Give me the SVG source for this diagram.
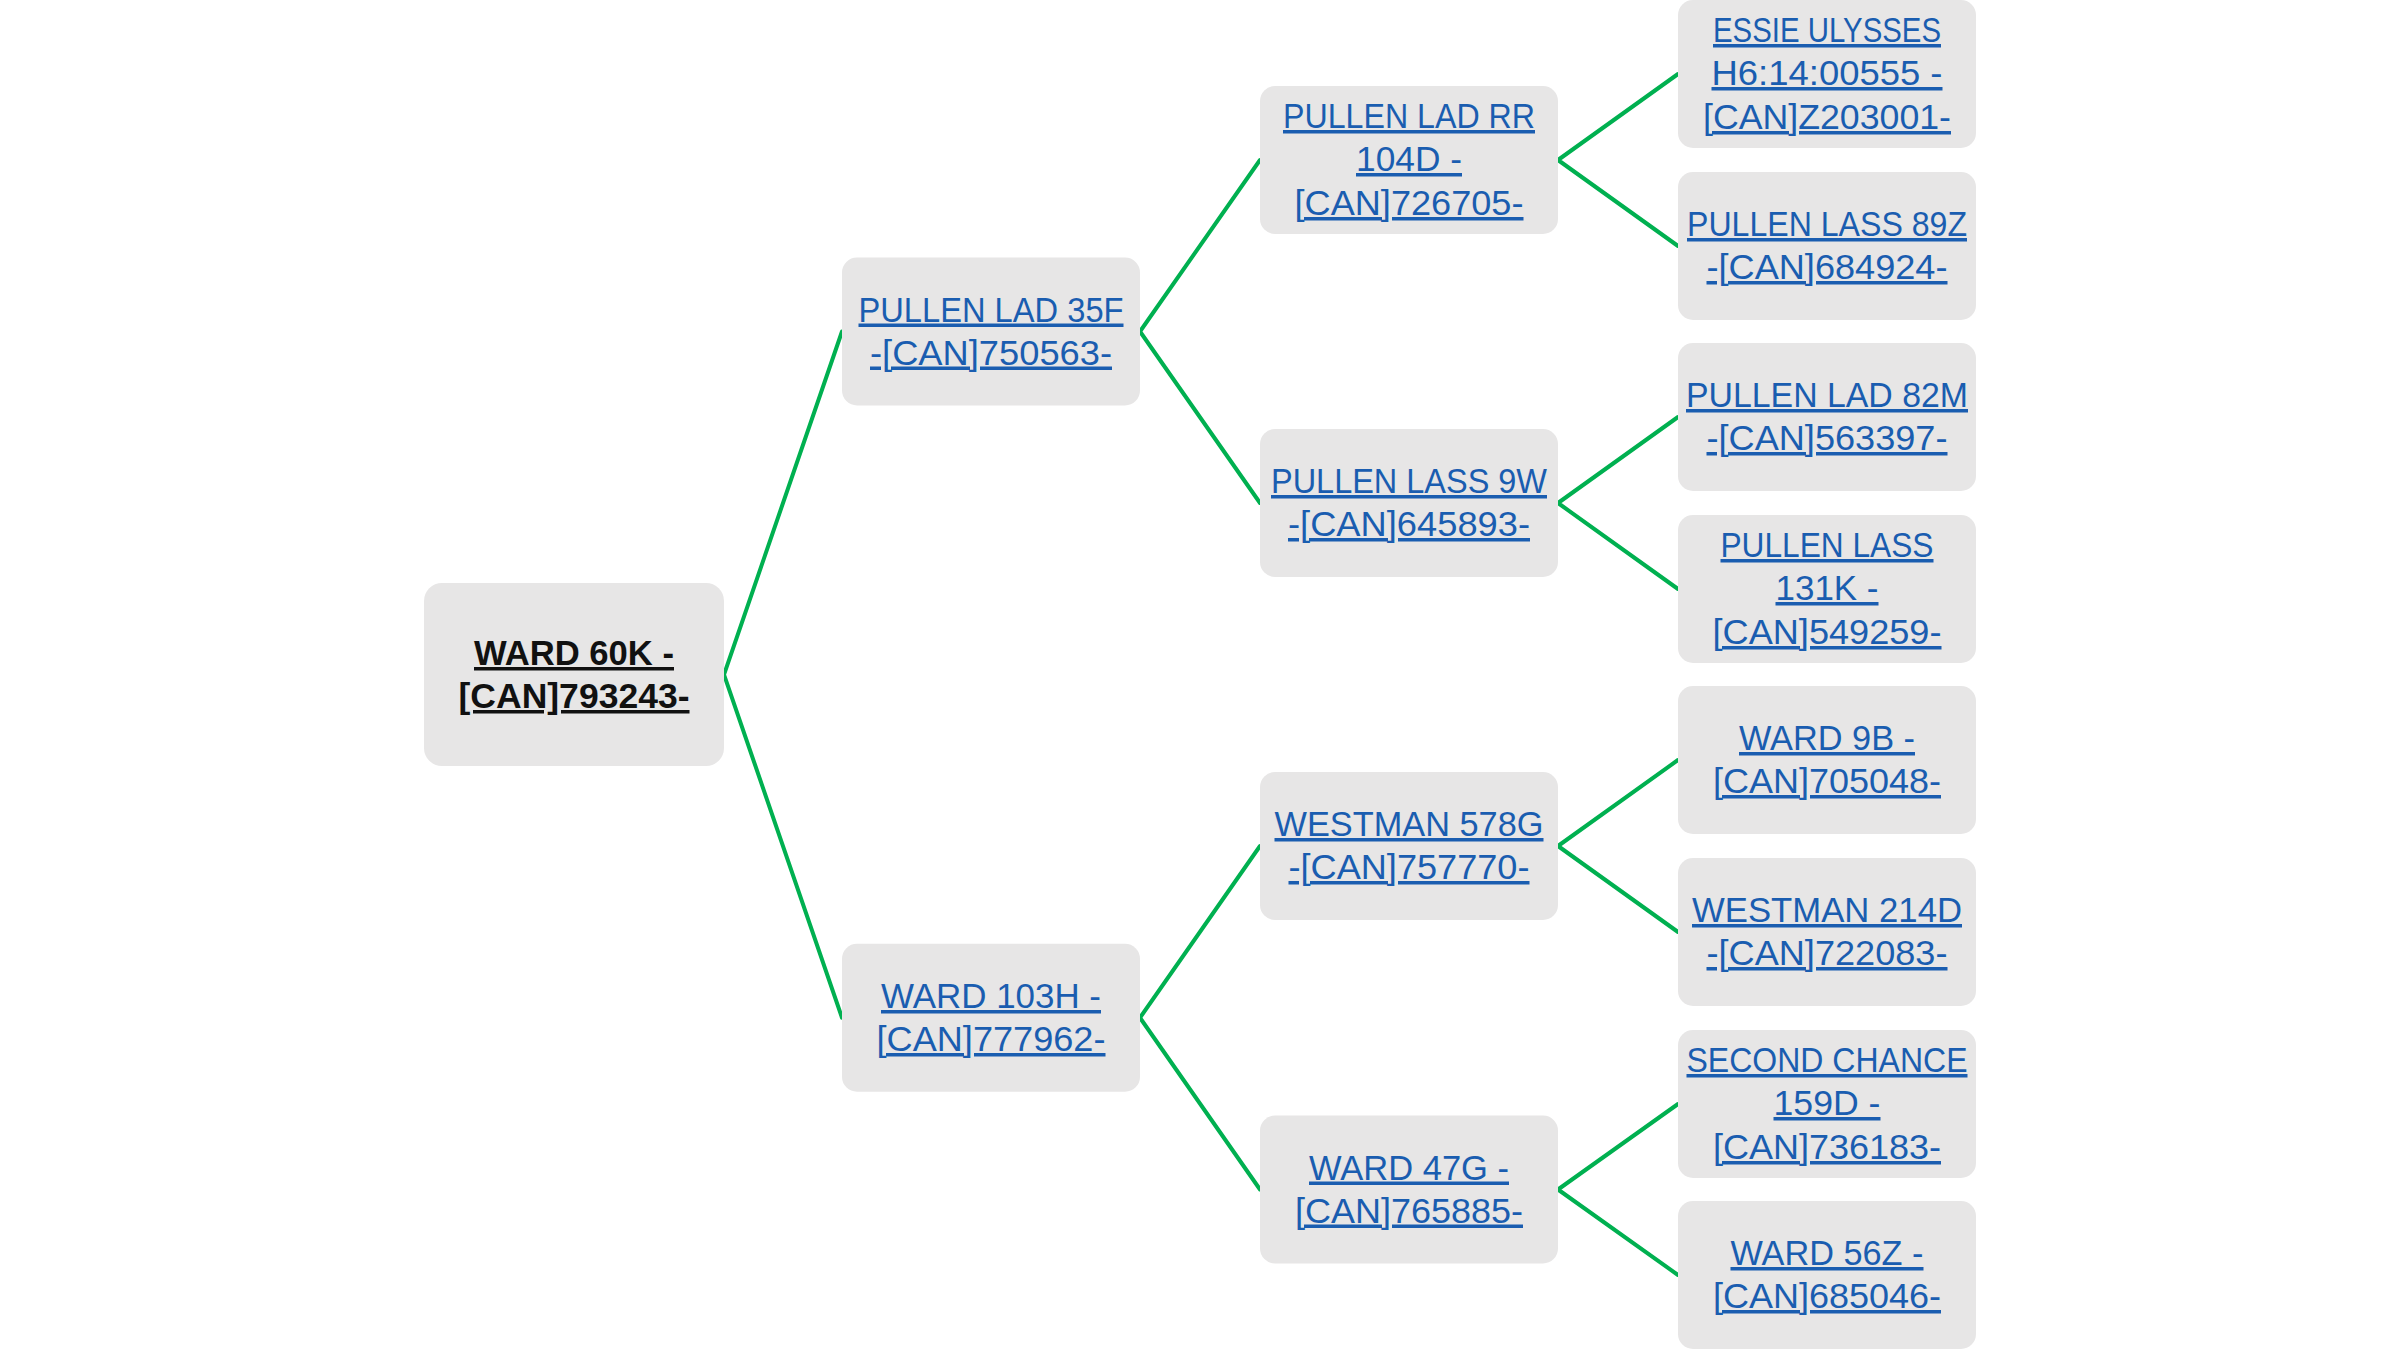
<svg xmlns="http://www.w3.org/2000/svg" width="2401" height="1350" viewBox="0 0 2401 1350">
<style>
.bg{fill:#ffffff}
.box{fill:#E7E6E6}
.lnk{font-family:"Liberation Sans",Arial,sans-serif;font-size:35px;fill:#1A5DB0;text-anchor:middle;text-decoration:underline}
.root{font-family:"Liberation Sans",Arial,sans-serif;font-size:35px;font-weight:bold;fill:#111111;text-anchor:middle;text-decoration:underline}
.con{stroke:#00B050;stroke-width:4;fill:none;stroke-linecap:round;stroke-linejoin:round}
</style>
<rect class="bg" x="0" y="0" width="2401" height="1350"/>
<g id="connectors">
<polyline class="con" points="842,331.5 724,674.6 842,1017.75"/>
<polyline class="con" points="1260,160 1140,331.5 1260,503"/>
<polyline class="con" points="1260,846 1140,1017.75 1260,1189.5"/>
<polyline class="con" points="1678,74 1558,160 1678,246"/>
<polyline class="con" points="1678,417 1558,503 1678,589"/>
<polyline class="con" points="1678,760 1558,846 1678,932"/>
<polyline class="con" points="1678,1104 1558,1189.5 1678,1275"/>
</g>
<g id="n-ward60k">
<rect class="box" x="424" y="583" width="300" height="183" rx="18"/>
<text class="root" x="574" y="665" textLength="200" lengthAdjust="spacingAndGlyphs">WARD 60K -</text>
<text class="root" x="574" y="708" textLength="231" lengthAdjust="spacingAndGlyphs">[CAN]793243-</text>
</g>
<g id="n-pullenlad35f">
<rect class="box" x="842" y="257.5" width="298" height="148" rx="15"/>
<text class="lnk" x="991" y="321.5" textLength="265" lengthAdjust="spacingAndGlyphs">PULLEN LAD 35F</text>
<text class="lnk" x="991" y="364.5" textLength="242" lengthAdjust="spacingAndGlyphs">-[CAN]750563-</text>
</g>
<g id="n-ward103h">
<rect class="box" x="842" y="943.75" width="298" height="148" rx="15"/>
<text class="lnk" x="991" y="1008" textLength="220" lengthAdjust="spacingAndGlyphs">WARD 103H -</text>
<text class="lnk" x="991" y="1051" textLength="229" lengthAdjust="spacingAndGlyphs">[CAN]777962-</text>
</g>
<g id="n-pullenladrr104d">
<rect class="box" x="1260" y="86" width="298" height="148" rx="15"/>
<text class="lnk" x="1409" y="128" textLength="252" lengthAdjust="spacingAndGlyphs">PULLEN LAD RR</text>
<text class="lnk" x="1409" y="171" textLength="106" lengthAdjust="spacingAndGlyphs">104D -</text>
<text class="lnk" x="1409" y="215" textLength="229" lengthAdjust="spacingAndGlyphs">[CAN]726705-</text>
</g>
<g id="n-pullenlass9w">
<rect class="box" x="1260" y="429" width="298" height="148" rx="15"/>
<text class="lnk" x="1409" y="493" textLength="276" lengthAdjust="spacingAndGlyphs">PULLEN LASS 9W</text>
<text class="lnk" x="1409" y="536" textLength="242" lengthAdjust="spacingAndGlyphs">-[CAN]645893-</text>
</g>
<g id="n-westman578g">
<rect class="box" x="1260" y="772" width="298" height="148" rx="15"/>
<text class="lnk" x="1409" y="836" textLength="269" lengthAdjust="spacingAndGlyphs">WESTMAN 578G</text>
<text class="lnk" x="1409" y="879" textLength="241" lengthAdjust="spacingAndGlyphs">-[CAN]757770-</text>
</g>
<g id="n-ward47g">
<rect class="box" x="1260" y="1115.5" width="298" height="148" rx="15"/>
<text class="lnk" x="1409" y="1179.5" textLength="200" lengthAdjust="spacingAndGlyphs">WARD 47G -</text>
<text class="lnk" x="1409" y="1222.5" textLength="228" lengthAdjust="spacingAndGlyphs">[CAN]765885-</text>
</g>
<g id="n-essieulysses">
<rect class="box" x="1678" y="0" width="298" height="148" rx="15"/>
<text class="lnk" x="1827" y="42" textLength="228" lengthAdjust="spacingAndGlyphs">ESSIE ULYSSES</text>
<text class="lnk" x="1827" y="85" textLength="231" lengthAdjust="spacingAndGlyphs">H6:14:00555 -</text>
<text class="lnk" x="1827" y="129" textLength="248" lengthAdjust="spacingAndGlyphs">[CAN]Z203001-</text>
</g>
<g id="n-pullenlass89z">
<rect class="box" x="1678" y="172" width="298" height="148" rx="15"/>
<text class="lnk" x="1827" y="236" textLength="280" lengthAdjust="spacingAndGlyphs">PULLEN LASS 89Z</text>
<text class="lnk" x="1827" y="279" textLength="241" lengthAdjust="spacingAndGlyphs">-[CAN]684924-</text>
</g>
<g id="n-pullenlad82m">
<rect class="box" x="1678" y="343" width="298" height="148" rx="15"/>
<text class="lnk" x="1827" y="407" textLength="282" lengthAdjust="spacingAndGlyphs">PULLEN LAD 82M</text>
<text class="lnk" x="1827" y="450" textLength="241" lengthAdjust="spacingAndGlyphs">-[CAN]563397-</text>
</g>
<g id="n-pullenlass131k">
<rect class="box" x="1678" y="515" width="298" height="148" rx="15"/>
<text class="lnk" x="1827" y="557" textLength="213" lengthAdjust="spacingAndGlyphs">PULLEN LASS</text>
<text class="lnk" x="1827" y="600" textLength="103" lengthAdjust="spacingAndGlyphs">131K -</text>
<text class="lnk" x="1827" y="644" textLength="229" lengthAdjust="spacingAndGlyphs">[CAN]549259-</text>
</g>
<g id="n-ward9b">
<rect class="box" x="1678" y="686" width="298" height="148" rx="15"/>
<text class="lnk" x="1827" y="750" textLength="176" lengthAdjust="spacingAndGlyphs">WARD 9B -</text>
<text class="lnk" x="1827" y="793" textLength="228" lengthAdjust="spacingAndGlyphs">[CAN]705048-</text>
</g>
<g id="n-westman214d">
<rect class="box" x="1678" y="858" width="298" height="148" rx="15"/>
<text class="lnk" x="1827" y="922" textLength="270" lengthAdjust="spacingAndGlyphs">WESTMAN 214D</text>
<text class="lnk" x="1827" y="965" textLength="241" lengthAdjust="spacingAndGlyphs">-[CAN]722083-</text>
</g>
<g id="n-secondchance159d">
<rect class="box" x="1678" y="1030" width="298" height="148" rx="15"/>
<text class="lnk" x="1827" y="1072" textLength="281" lengthAdjust="spacingAndGlyphs">SECOND CHANCE</text>
<text class="lnk" x="1827" y="1115" textLength="107" lengthAdjust="spacingAndGlyphs">159D -</text>
<text class="lnk" x="1827" y="1159" textLength="228" lengthAdjust="spacingAndGlyphs">[CAN]736183-</text>
</g>
<g id="n-ward56z">
<rect class="box" x="1678" y="1201" width="298" height="148" rx="15"/>
<text class="lnk" x="1827" y="1265" textLength="193" lengthAdjust="spacingAndGlyphs">WARD 56Z -</text>
<text class="lnk" x="1827" y="1308" textLength="228" lengthAdjust="spacingAndGlyphs">[CAN]685046-</text>
</g>
</svg>
